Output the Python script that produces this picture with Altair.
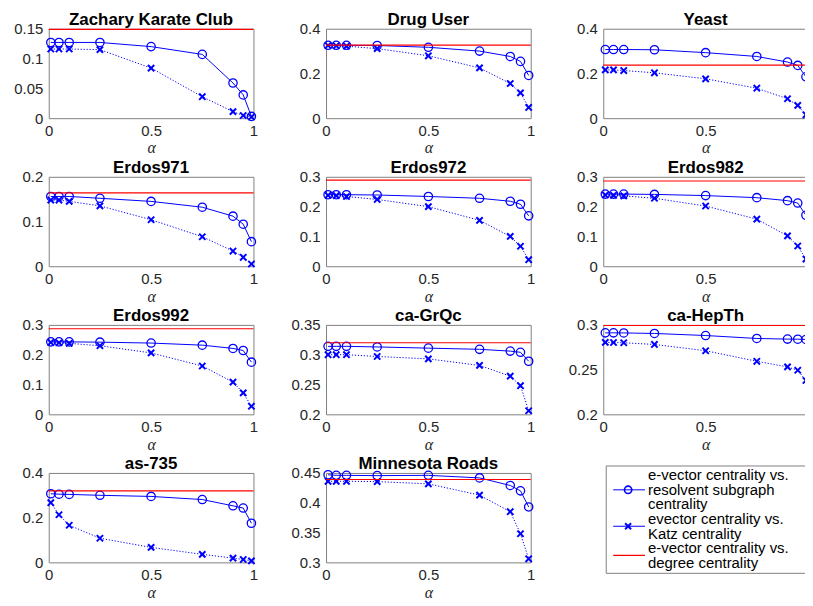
import altair as alt
import pandas as pd

alphas = [0.01, 0.05, 0.1, 0.25, 0.5, 0.75, 0.9, 0.95, 0.99]

names = ["Zachary Karate Club", "Drug User", "Yeast",
         "Erdos971", "Erdos972", "Erdos982",
         "Erdos992", "ca-GrQc", "ca-HepTh",
         "as-735", "Minnesota Roads"]

resolvent = {
    "Zachary Karate Club": [0.127, 0.127, 0.127, 0.127, 0.120, 0.107, 0.059, 0.039, 0.003],
    "Drug User": [0.326, 0.326, 0.326, 0.325, 0.317, 0.300, 0.276, 0.254, 0.191],
    "Yeast": [0.307, 0.307, 0.307, 0.306, 0.293, 0.276, 0.251, 0.236, 0.185],
    "Erdos971": [0.156, 0.156, 0.156, 0.152, 0.145, 0.132, 0.112, 0.094, 0.055],
    "Erdos972": [0.240, 0.240, 0.240, 0.239, 0.234, 0.228, 0.218, 0.208, 0.169],
    "Erdos982": [0.242, 0.242, 0.242, 0.241, 0.237, 0.230, 0.220, 0.212, 0.171],
    "Erdos992": [0.243, 0.243, 0.243, 0.242, 0.239, 0.232, 0.221, 0.214, 0.175],
    "ca-GrQc": [0.314, 0.314, 0.314, 0.313, 0.311, 0.309, 0.306, 0.304, 0.289],
    "ca-HepTh": [0.2911, 0.2911, 0.2910, 0.2904, 0.2881, 0.2848, 0.2841, 0.2840, 0.2837],
    "as-735": [0.307, 0.305, 0.304, 0.300, 0.295, 0.281, 0.253, 0.243, 0.175],
    "Minnesota Roads": [0.447, 0.446, 0.446, 0.4455, 0.446, 0.4417, 0.429, 0.420, 0.393],
}

katz = {
    "Zachary Karate Club": [0.116, 0.116, 0.116, 0.115, 0.084, 0.036, 0.011, 0.0045, 0.002],
    "Drug User": [0.325, 0.324, 0.322, 0.311, 0.279, 0.225, 0.155, 0.113, 0.048],
    "Yeast": [0.216, 0.216, 0.213, 0.203, 0.176, 0.134, 0.087, 0.057, 0.015],
    "Erdos971": [0.148, 0.148, 0.145, 0.135, 0.104, 0.066, 0.034, 0.020, 0.005],
    "Erdos972": [0.238, 0.237, 0.234, 0.224, 0.200, 0.154, 0.100, 0.067, 0.022],
    "Erdos982": [0.239, 0.238, 0.236, 0.228, 0.202, 0.158, 0.102, 0.068, 0.024],
    "Erdos992": [0.241, 0.240, 0.238, 0.230, 0.206, 0.162, 0.108, 0.072, 0.027],
    "ca-GrQc": [0.300, 0.300, 0.300, 0.297, 0.293, 0.282, 0.264, 0.248, 0.206],
    "ca-HepTh": [0.2804, 0.2803, 0.2800, 0.2781, 0.2711, 0.2593, 0.2530, 0.2493, 0.2378],
    "as-735": [0.267, 0.213, 0.166, 0.108, 0.067, 0.036, 0.019, 0.013, 0.007],
    "Minnesota Roads": [0.436, 0.436, 0.436, 0.4355, 0.4317, 0.4128, 0.385, 0.348, 0.306],
}

degree = {
    "Zachary Karate Club": 0.149, "Drug User": 0.327, "Yeast": 0.237,
    "Erdos971": 0.164, "Erdos972": 0.289, "Erdos982": 0.286,
    "Erdos992": 0.287, "ca-GrQc": 0.320, "ca-HepTh": 0.2993,
    "as-735": 0.320, "Minnesota Roads": 0.439,
}

y_ticks = {
    "Zachary Karate Club": [0, 0.05, 0.1, 0.15],
    "Drug User": [0, 0.2, 0.4],
    "Yeast": [0, 0.2, 0.4],
    "Erdos971": [0, 0.1, 0.2],
    "Erdos972": [0, 0.1, 0.2, 0.3],
    "Erdos982": [0, 0.1, 0.2, 0.3],
    "Erdos992": [0, 0.1, 0.2, 0.3],
    "ca-GrQc": [0.2, 0.25, 0.3, 0.35],
    "ca-HepTh": [0.2, 0.25, 0.3],
    "as-735": [0, 0.2, 0.4],
    "Minnesota Roads": [0.3, 0.35, 0.4, 0.45],
}
x_ticks = [0, 0.5, 1]

legend_lines = ["e-vector centrality vs.", "resolvent subgraph", "centrality",
                "evector centrality vs.", "Katz centrality",
                "e-vector centrality vs.", "degree centrality"]
legend_entry_line = [1, 3.5, 5.5]   # vertical position in text-line units

BLUE = "#0000ff"
RED = "#ff0000"
GRAY = "#808080"
XSHAPE = "M-1,-1L1,1M-1,1L1,-1"
W, H = 206, 90


def panel(name):
    res_df = pd.DataFrame({"alpha": alphas, "value": resolvent[name]})
    katz_df = pd.DataFrame({"alpha": alphas, "value": katz[name]})
    deg_df = pd.DataFrame({"value": [degree[name]]})
    ticks = y_ticks[name]
    xenc = alt.X("alpha:Q", scale=alt.Scale(domain=[0, 1], nice=False, zero=False),
                 axis=alt.Axis(values=x_ticks, format=".2~f", title="α"))
    yenc = alt.Y("value:Q", scale=alt.Scale(domain=[ticks[0], ticks[-1]], nice=False, zero=False),
                 axis=alt.Axis(values=ticks, format=".2~f", title=" "))
    base_r = alt.Chart(res_df).encode(x=xenc, y=yenc)
    base_k = alt.Chart(katz_df).encode(x=xenc, y=yenc)
    l1 = base_r.mark_line(color=BLUE, strokeWidth=1)
    p1 = base_r.mark_point(shape="circle", filled=False, color=BLUE, size=70, strokeWidth=1.3, opacity=1)
    l2 = base_k.mark_line(color=BLUE, strokeWidth=1, strokeDash=[1.2, 1.8])
    p2 = base_k.mark_point(shape=XSHAPE, filled=False, color=BLUE, size=40, strokeWidth=2, opacity=1)
    red = alt.Chart(deg_df).mark_rule(color=RED, strokeWidth=1.2).encode(y=yenc)
    return alt.layer(l1, l2, p1, p2, red).properties(width=W, height=H, title=name)


def legend_panel():
    txt_df = pd.DataFrame({"line": list(range(len(legend_lines))), "text": legend_lines})
    ent_df = pd.DataFrame({"pos": legend_entry_line, "entry": ["res", "katz", "deg"]})
    lo, hi = -0.157, 5.978
    yscale = alt.Scale(domain=[lo, hi], reverse=True, nice=False, zero=False)
    # invisible axis so that this panel lines up with its neighbours
    yax = alt.Axis(values=[lo], labelExpr="'0'", labelColor="transparent",
                   title=" ", titlePadding=3)
    yenc_t = alt.Y("line:Q", scale=yscale, axis=yax)
    yenc_e = alt.Y("pos:Q", scale=yscale, axis=yax)
    box = alt.Chart(pd.DataFrame({"line": [lo]})).mark_rect(
        fillOpacity=0, stroke=GRAY, strokeWidth=1).encode(
        x=alt.value(3), x2=alt.value(205), y=alt.value(-7), y2=alt.value(101))
    texts = alt.Chart(txt_df).mark_text(align="left", baseline="middle", font="Liberation Sans",
                                        fontSize=15, color="black").encode(
        x=alt.value(45), y=yenc_t, text="text:N")
    e_res = ent_df[ent_df.entry == "res"]
    e_katz = ent_df[ent_df.entry == "katz"]
    e_deg = ent_df[ent_df.entry == "deg"]
    r1 = alt.Chart(e_res).mark_rule(color=BLUE, strokeWidth=1).encode(
        x=alt.value(10), x2=alt.value(42), y=yenc_e)
    m1 = alt.Chart(e_res).mark_point(shape="circle", filled=False, color=BLUE, size=55,
                                     strokeWidth=1.6, opacity=1).encode(x=alt.value(25), y=yenc_e)
    r2 = alt.Chart(e_katz).mark_rule(color=BLUE, strokeWidth=1).encode(
        x=alt.value(10), x2=alt.value(42), y=yenc_e)
    m2 = alt.Chart(e_katz).mark_point(shape=XSHAPE, filled=False, color=BLUE, size=36,
                                      strokeWidth=2, opacity=1).encode(x=alt.value(25), y=yenc_e)
    r3 = alt.Chart(e_deg).mark_rule(color=RED, strokeWidth=1.2).encode(
        x=alt.value(10), x2=alt.value(42), y=yenc_e)
    return alt.layer(texts, box, r1, m1, r2, m2, r3).properties(
        width=200, height=H, title=" ", view=alt.ViewBackground(stroke="transparent"))


panels = [panel(n) for n in names]
rows = [alt.hconcat(*panels[i:i + 3], spacing=26) for i in range(0, 9, 3)]
rows.append(alt.hconcat(panels[9], panels[10], legend_panel(), spacing=26))

chart = alt.vconcat(*rows, spacing=1).properties(
    padding={"left": 0, "top": 0, "right": -9, "bottom": 0}
).configure_view(
    stroke=GRAY, strokeWidth=1
).configure_axis(
    grid=False, domain=False, ticks=False, labelFlush=False, labelOverlap=False,
    labelFont="Liberation Sans", labelFontSize=15, labelColor="#262626"
).configure_axisX(
    labelPadding=5, titlePadding=1, minExtent=21, maxExtent=21,
    titleFont="Liberation Serif", titleFontStyle="italic", titleFontWeight="normal",
    titleFontSize=16, titleColor="#262626"
).configure_axisY(
    labelPadding=6, minExtent=30, maxExtent=30, titlePadding=3, titleFontSize=7,
    titleColor="#ffffff"
).configure_title(
    font="Liberation Sans", fontSize=17, fontWeight="bold", color="black", offset=-7,
    anchor="middle"
)

chart.save("out.html", embed_options={"renderer": "svg", "actions": False})
